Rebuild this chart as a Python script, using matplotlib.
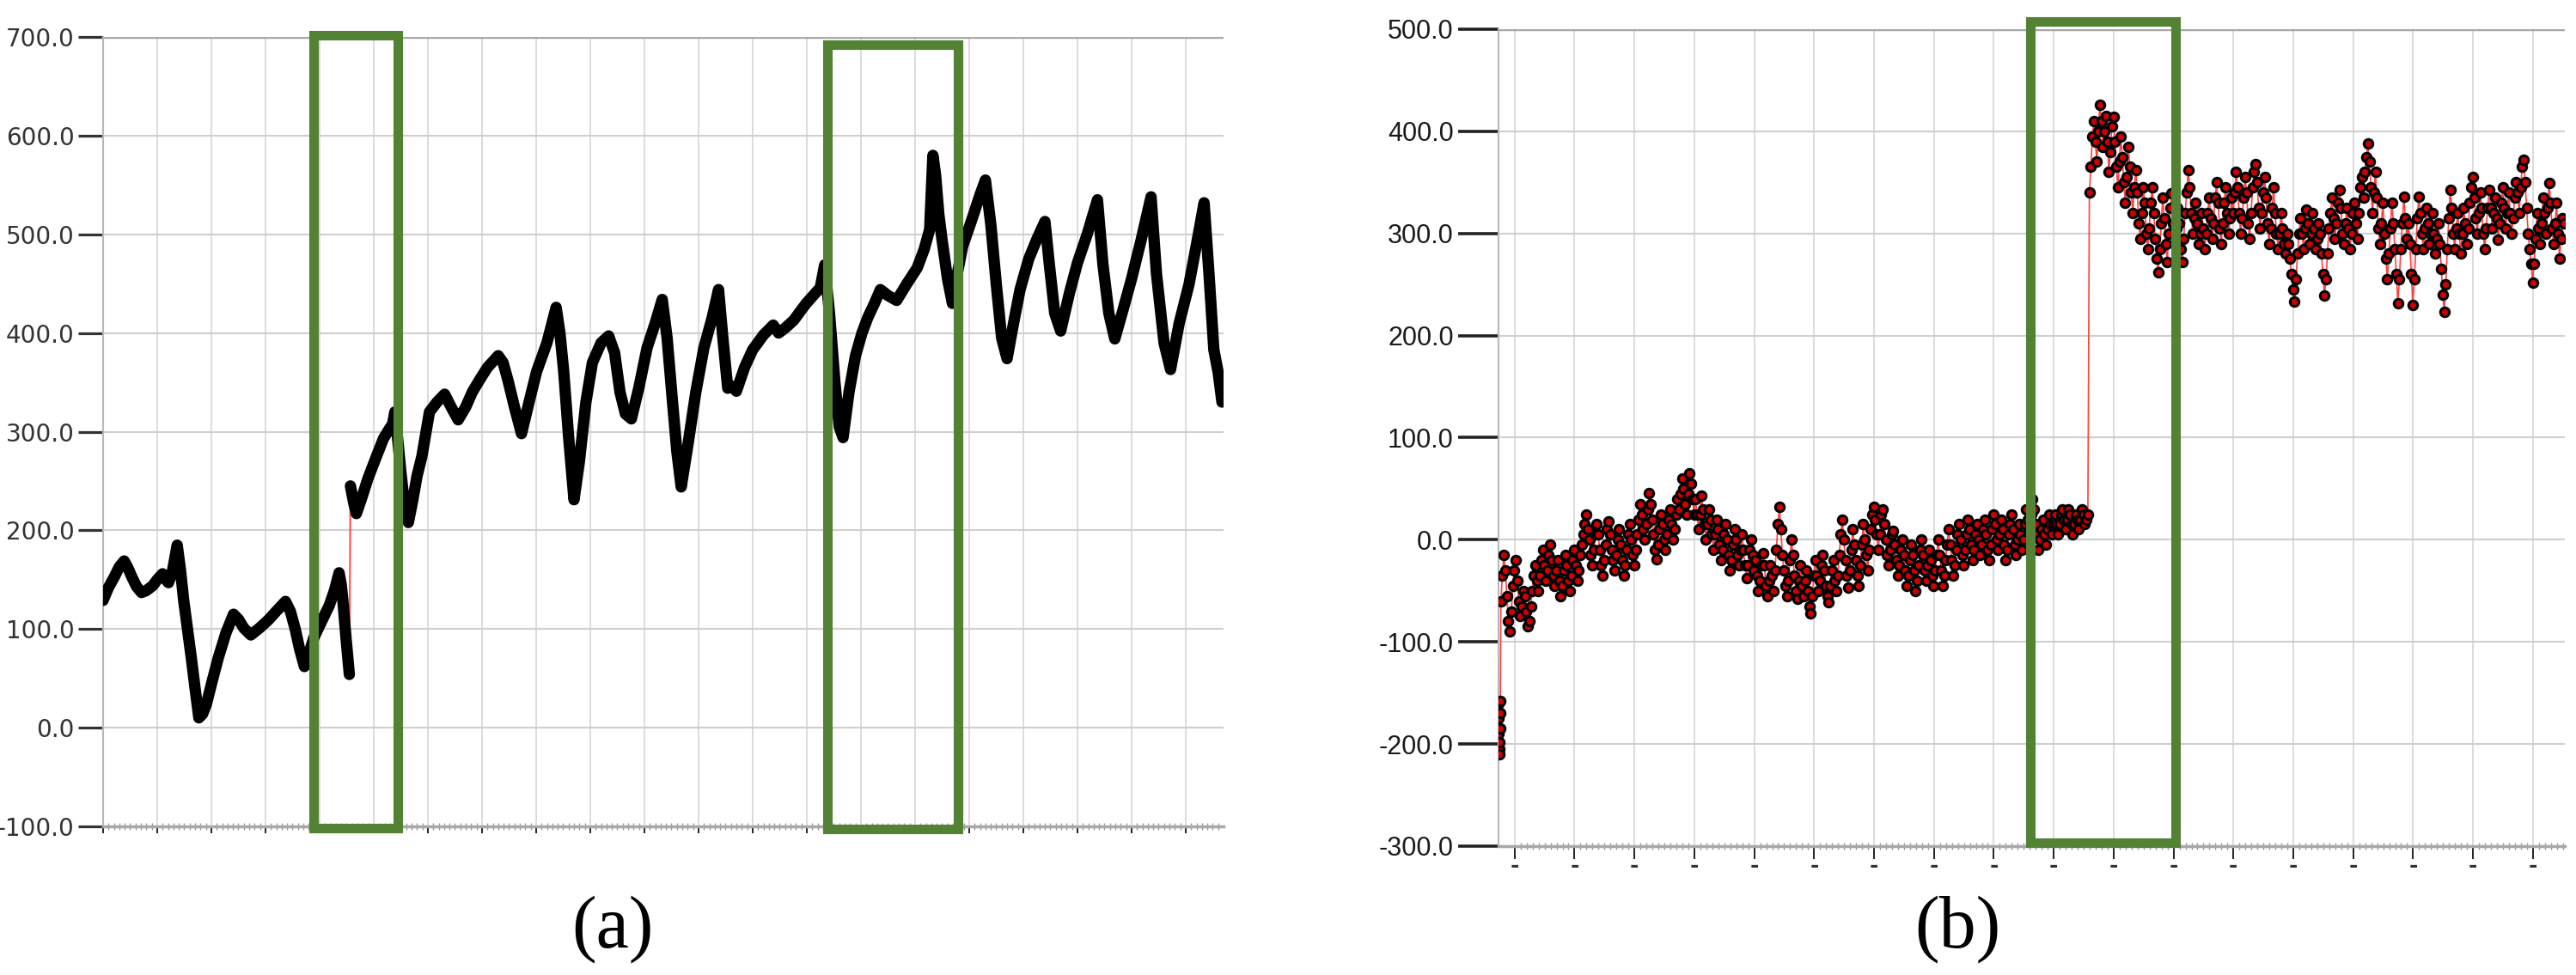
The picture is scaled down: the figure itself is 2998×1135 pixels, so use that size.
import matplotlib
matplotlib.use('Agg')
import matplotlib.pyplot as plt
import matplotlib.patches as patches
import numpy as np

plt.rcParams['axes.unicode_minus'] = False

# ---- panel (a): values, x in grid divisions ----
a_x = [0.00, 0.10, 0.21, 0.30, 0.39, 0.46, 0.53, 0.62, 0.71, 0.80, 0.92, 1.00, 1.10, 1.16, 1.21,
       1.28, 1.37, 1.43, 1.49, 1.56, 1.63, 1.70, 1.77, 1.84, 1.91, 2.02, 2.13, 2.27, 2.41, 2.50,
       2.60, 2.73, 2.89, 3.05, 3.20, 3.37, 3.46, 3.55, 3.63, 3.72, 3.80, 3.90, 4.04, 4.18, 4.28,
       4.36, 4.40, 4.43, 4.49, 4.55, 4.57, 4.63, 4.68, 4.78, 4.89, 5.03, 5.18, 5.28, 5.35, 5.39,
       5.43, 5.50, 5.57, 5.64, 5.72, 5.80, 5.89, 6.03, 6.17, 6.31, 6.43, 6.56, 6.70, 6.82, 6.95,
       7.10, 7.30, 7.39, 7.48, 7.60, 7.73, 7.87, 8.01, 8.20, 8.37, 8.44, 8.51, 8.60, 8.70, 8.80,
       8.92, 9.04, 9.20, 9.34, 9.45, 9.55, 9.65, 9.76, 9.90, 10.05, 10.20, 10.33, 10.42, 10.52,
       10.60, 10.68, 10.80, 10.95, 11.10, 11.25, 11.37, 11.45, 11.54, 11.62, 11.70, 11.85, 12.00,
       12.20, 12.38, 12.48, 12.60, 12.76, 12.88, 12.99, 13.12, 13.25, 13.33, 13.42, 13.52, 13.60,
       13.67, 13.78, 13.90, 14.02, 14.13, 14.25, 14.36, 14.50, 14.66, 14.85, 15.04, 15.17, 15.27,
       15.33, 15.38, 15.44, 15.50, 15.60, 15.69, 15.78, 15.88, 16.05, 16.20, 16.30, 16.40, 16.50,
       16.60, 16.70, 16.82, 16.94, 17.10, 17.25, 17.40, 17.48, 17.58, 17.69, 17.85, 18.00, 18.18,
       18.37, 18.47, 18.58, 18.69, 18.85, 19.00, 19.18, 19.36, 19.46, 19.60, 19.72, 19.88, 20.06,
       20.20, 20.34, 20.43, 20.52, 20.60, 20.67]
a_y = [129, 142, 153, 163, 169, 162, 153, 143, 137, 139, 144, 150, 156, 150, 147,
       158, 185, 160, 129, 100, 71, 40, 10, 14, 24, 48, 71, 96, 115, 110,
       101, 94, 101, 109, 118, 128, 118, 100, 80, 62, 75, 92, 108, 124, 140,
       157, 145, 129, 90, 54, 245, 228, 217, 233, 252, 272, 293, 302, 308, 320,
       300, 260, 225, 208, 230, 255, 275, 320, 330, 338, 325, 312, 325, 340, 352,
       365, 377, 370, 352, 325, 298, 330, 361, 390, 426, 400, 361, 295, 231, 270,
       330, 370, 390, 397, 380, 340, 318, 313, 345, 385, 410, 434, 395, 330,
       280, 244, 285, 340, 385, 415, 444, 395, 344, 346, 341, 365, 383,
       398, 408, 400, 405, 413, 422, 430, 438, 446, 469, 420, 350, 305,
       294, 340, 377, 400, 416, 430, 444, 438, 433, 450, 466, 485, 505,
       580, 560, 520, 494, 455, 430, 460, 488, 515, 540, 555, 510, 450,
       395, 374, 410, 444, 475, 495, 513, 470, 420, 402, 440, 471, 500,
       535, 470, 420, 394, 425, 455, 495, 538, 460, 390, 363, 410, 449,
       490, 532, 460, 383, 360, 330]

# ---- panel (b): values ----
# short burst right at the start
b_head = [-160, -175, -190, -205, -210, -198, -185, -170, -158]
# main record, one reading every 1/40 of a grid division
b_vals = [
    -60, -35, -15, -30, -55, -80, -90, -70, -45, -30,
    # div 0
    -20, -40, -60, -75, -65, -50, -55, -70, -85, -80,
    -65, -50, -35, -25, -40, -50, -35, -20, -10, -25,
    -40, -30, -15, -5, -20, -35, -45, -30, -20, -40,
    -55, -45, -30, -15, -25, -40, -50, -35, -20, -10,
    # div 1
    -25, -40, -30, -15, -5, 5, 15, 25, 10, 0,
    -15, -25, -10, 5, 15, 5, -10, -25, -35, -20,
    -5, 10, 18, 5, -10, -20, -30, -15, 0, 10,
    -5, -20, -35, -25, -10, 5, 15, 0, -15, -25,
    # div 2
    -10, 5, 20, 35, 25, 10, 0, 15, 30, 46,
    35, 20, 5, -10, -19, -5, 10, 25, 15, 0,
    -10, 5, 20, 30, 15, 0, 10, 25, 40, 30,
    45, 60, 50, 35, 25, 45, 65, 55, 40, 25,
    # div 3
    40, 25, 10, 25, 43, 30, 15, 0, 15, 30,
    20, 5, -10, 5, 20, 10, -5, -20, -10, 5,
    15, 0, -15, -30, -20, -5, 10, 0, -15, -25,
    -10, 5, -10, -25, -38, -25, -10, 0, -15, -30,
    # div 4
    -20, -35, -50, -40, -25, -13, -25, -45, -55, -40,
    -25, -35, -50, -30, -10, 15, 32, 10, -15, -30,
    -45, -55, -40, -20, 0, -15, -35, -50, -58, -40,
    -25, -45, -55, -40, -30, -50, -65, -72, -55, -35,
    # div 5
    -20, -35, -50, -40, -25, -15, -30, -45, -55, -61,
    -45, -30, -20, -40, -50, -35, -15, 5, 20, 0,
    -20, -35, -47, -30, -10, 10, -5, -20, -35, -45,
    -25, -5, 15, 0, -15, -30, -10, 10, 25, 32,
    # div 6
    20, 5, -10, 5, 25, 30, 15, 0, -15, -25,
    -10, 5, 9, -5, -20, -35, -25, -10, 0, -15,
    -30, -45, -35, -20, -5, -15, -30, -50, -40, -25,
    -10, 0, -15, -30, -40, -25, -10, -20, -35, -45,
    # div 7
    -30, -15, 0, -15, -30, -45, -35, -20, -5, 10,
    -5, -20, -35, -25, -10, 5, 15, 0, -15, -25,
    -10, 5, 20, 10, -5, -20, -10, 5, 15, 0,
    -15, -5, 10, 20, 5, -10, -20, -5, 10, 25,
    # div 8
    15, 0, -10, 5, 20, 10, -5, -20, -10, 5,
    15, 25, 10, -5, -15, 0, 15, 5, -10, 0,
    15, 30, 20, 10, 25, 40, 30, 15, 5, -10,
    0, 10, 20, 5, -5, 10, 25, 15, 5, 15,
    # div 9 up to the step
    25, 15, 5, 15, 25, 30, 20, 10, 20, 30,
    25, 15, 5, 15, 25, 20, 10, 20, 30, 25,
    15, 20, 25,
    # after the step
    340, 365, 395, 410, 390, 370, 400, 426, 410, 385,
    400, 415, 390, 360, 380, 405, 414,
    # div 10
    390, 365, 345, 370, 395, 375, 350, 330, 355, 385,
    365, 340, 320, 345, 362, 340, 310, 295, 320, 345,
    330, 300, 285, 305, 330, 345, 320, 295, 275, 262,
    285, 310, 335, 315, 290, 272, 300, 325, 339, 310,
    # div 11
    290, 305, 325, 310, 285, 272, 295, 320, 340, 362,
    345, 320, 300, 315, 330, 310, 290, 300, 320, 305,
    285, 300, 320, 335, 315, 295, 310, 335, 350, 330,
    305, 290, 310, 330, 345, 320, 300, 315, 335, 320,
    # div 12
    340, 360, 345, 320, 300, 315, 335, 355, 340, 310,
    295, 320, 345, 360, 368, 350, 325, 305, 320, 340,
    355, 335, 310, 290, 305, 325, 345, 320, 300, 285,
    300, 320, 305, 290, 280, 300, 290, 275, 260, 245,
    # div 13
    233, 255, 280, 300, 315, 300, 285, 305, 323, 310,
    290, 300, 320, 305, 285, 295, 310, 300, 280, 260,
    239, 255, 280, 305, 320, 335, 315, 295, 310, 330,
    343, 325, 300, 290, 310, 325, 305, 285, 300, 320,
    # div 14
    330, 310, 295, 320, 345, 355, 335, 360, 375, 388,
    370, 345, 320, 340, 360, 335, 305, 290, 310, 330,
    300, 275, 255, 280, 305, 330, 310, 285, 260, 232,
    255, 285, 310, 336, 315, 295, 310, 290, 260, 230,
    # div 15
    255, 285, 315, 336, 320, 300, 285, 305, 325, 310,
    290, 300, 320, 300, 280, 295, 310, 290, 265, 240,
    223, 250, 285, 315, 343, 325, 300, 285, 305, 320,
    300, 280, 300, 325, 310, 290, 305, 330, 345, 355,
    # div 16
    335, 315, 300, 320, 340, 325, 300, 285, 305, 325,
    343, 325, 305, 320, 335, 315, 294, 310, 330, 345,
    325, 305, 320, 340, 320, 300, 315, 335, 350, 340,
    320, 345, 365, 372, 350, 325, 300, 285, 270, 252,
    # div 17
    270, 295, 320, 305, 290, 310, 335, 320, 300, 325,
    349, 330, 305, 290, 310, 330, 300, 275, 295, 315, 310,
]

a_yticks = [-100, 0, 100, 200, 300, 400, 500, 600, 700]
b_yticks = [-300, -200, -100, 0, 100, 200, 300, 400, 500]

# highlighted windows: (x0, x1, y0, y1)
a_boxes = [(3.89, 5.44, -101.7, 701.7), (13.38, 15.79, -103, 692)]
b_boxes = [(8.61, 11.03, -297, 507.6)]

GREEN = '#548235'


def style_axes(ax, xlim, yticks, n_grid, ytick_len, ytick_font, xtick_len):
    ax.set_xlim(*xlim)
    ax.set_ylim(yticks[0], yticks[-1])
    ax.set_yticks(yticks)
    ax.set_yticklabels(['%.1f' % v for v in yticks])
    ax.set_xticks(range(n_grid + 1))
    ax.set_xticks(np.arange(0, xlim[1], 0.1), minor=True)
    for s in ['top', 'right']:
        ax.spines[s].set_visible(False)
    ax.spines['left'].set_color('#b8b8b8')
    ax.spines['left'].set_linewidth(1.5)
    ax.spines['bottom'].set_color('#a8a8a8')
    ax.spines['bottom'].set_linewidth(2.5)
    ax.tick_params(axis='y', direction='out', length=ytick_len, width=2.3,
                   color='#333333', pad=3)
    ax.tick_params(axis='x', which='major', direction='out', length=xtick_len, width=1.4,
                   color='#222222')
    ax.tick_params(axis='x', which='minor', direction='inout', length=6, width=1,
                   color='#999999')
    for lab in ax.get_yticklabels():
        lab.set_fontproperties(ytick_font)
    ax.grid(axis='y', color='#cfcfcf', lw=1.5)
    ax.grid(axis='x', which='major', color='#d6d6d6', lw=1.2)
    ax.axhline(yticks[-1], color='#a8a8a8', lw=2.5, zorder=1)
    ax.set_axisbelow(True)


fig = plt.figure(figsize=(29.98, 11.35), dpi=100)

# ---------------- panel (a) ----------------
ax_a = fig.add_axes([0.0400, 0.1524, 0.4350, 0.8097])
font_a = matplotlib.font_manager.FontProperties(family=['Liberation Sans Narrow', 'DejaVu Sans'], size=20)
style_axes(ax_a, (0, 20.7), a_yticks, 20, 21, font_a, 6)
ax_a.set_xticklabels([])
for lab in ax_a.get_yticklabels():
    lab.set_color('#333333')

ax_a.plot(a_x, a_y, color='#ff5050', lw=1.5, zorder=3)
xa = np.array(a_x)
ya = np.array(a_y)
# break the thick trace where the signal jumps
breaks = np.where(np.abs(np.diff(ya) / np.diff(xa)) > 2000)[0] + 1
for sx, sy in zip(np.split(xa, breaks), np.split(ya, breaks)):
    ax_a.plot(sx, sy, color='black', lw=9.5, solid_capstyle='round',
              solid_joinstyle='round', zorder=4)

for x0, x1, y0, y1 in a_boxes:
    ax_a.add_patch(patches.Rectangle((x0, y0), x1 - x0, y1 - y0, fill=False,
                                     edgecolor=GREEN, lw=8, clip_on=False, zorder=6))

# ---------------- panel (b) ----------------
ax_b = fig.add_axes([0.5817, 0.1322, 0.4139, 0.8379])
font_b = matplotlib.font_manager.FontProperties(family=['Liberation Sans', 'DejaVu Sans'], size=22)
style_axes(ax_b, (-0.27, 17.53), b_yticks, 17, 34, font_b, 11)
ax_b.tick_params(axis='y', width=2.6, color='#222222', pad=3.6)
ax_b.set_xticklabels(['-'] * 18, fontsize=18, fontweight='bold', color='#333333')
ax_b.tick_params(axis='x', which='major', pad=-3)
for lab in ax_b.get_yticklabels():
    lab.set_color('#1a1a1a')

bx = np.concatenate([-0.27 + 0.004 * np.arange(len(b_head)),
                     -0.23 + 0.025 * np.arange(len(b_vals))])
by = np.array(b_head + b_vals)
ax_b.plot(bx, by, color='#ff4040', lw=1.2, zorder=3)
ax_b.plot(bx, by, linestyle='none', marker='o', markersize=7.5,
          markerfacecolor='#cc0000', markeredgecolor='black', markeredgewidth=2.2, zorder=4)

for x0, x1, y0, y1 in b_boxes:
    ax_b.add_patch(patches.Rectangle((x0, y0), x1 - x0, y1 - y0, fill=False,
                                     edgecolor=GREEN, lw=8, clip_on=False, zorder=6))

# ---------------- panel captions ----------------
fig.text(0.2378, 0.0467, '(a)', fontsize=62, family='Liberation Serif',
         ha='center', va='center')
fig.text(0.7598, 0.0467, '(b)', fontsize=62, family='Liberation Serif',
         ha='center', va='center')

fig.savefig('out.png', dpi=100)
plt.close(fig)
